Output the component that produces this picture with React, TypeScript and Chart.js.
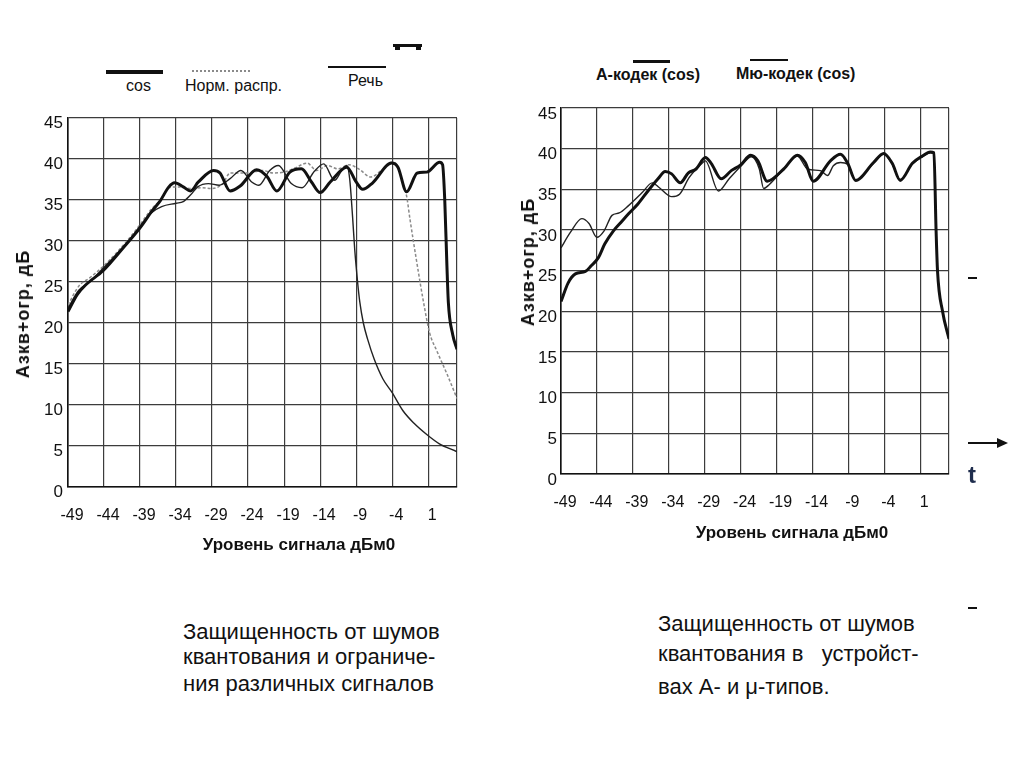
import React, { useEffect, useRef } from "react";
import { Chart, registerables } from "chart.js";

Chart.register(...registerables);

const FONT = '"Liberation Sans", Arial, Helvetica, sans-serif';

// Shared axes
const xTickValues = [-49, -44, -39, -34, -29, -24, -19, -14, -9, -4, 1, 5];
const xMin = -49;
const xMax = 5;
const yMin = 0;
const yMax = 45;
const yStep = 5;

// ----- Left chart: cos / Норм. распр. / Речь -----
const cosLevels = [-49, -47.7, -46.6, -44.1, -41.3, -39, -37.3, -36.2, -35, -34.2, -33, -32, -30.9, -28.8, -27.9, -26.5, -25.1, -22.8, -21.4, -20, -18.2, -16.6, -15.2, -14, -12.6, -10.3, -9, -8.1, -6.7, -4.1, -3.2, -2, -0.5, 0.8, 2.6, 3, 3.3, 3.6, 3.8, 4.4, 5];
const cosValues = [21.4, 23.5, 24.6, 26.4, 29.2, 31.6, 33.7, 34.9, 36.6, 37.1, 36.6, 36.1, 37.2, 38.6, 38.3, 36.1, 36.7, 38.7, 37.9, 36.1, 38.4, 38.8, 37.2, 35.9, 37.2, 39, 37.2, 36.3, 37.1, 39.5, 39, 36, 38.3, 38.4, 39.6, 39.3, 35, 27, 22.5, 18.6, 16.8];

const normLevels = [-49, -47.5, -46, -44, -41, -39, -37.5, -36, -35, -33.5, -32, -30.5, -29, -27.5, -26.5, -24, -22, -20.5, -19, -17.5, -15.8, -14.5, -13, -11.5, -10, -8.5, -7, -5.5, -4, -3.4, -2.5, -2, -1.5, -0.6, 0.3, 1.2, 2.2, 3.6, 5];
const normValues = [22.2, 24.5, 25.5, 27, 29.8, 32, 33.8, 35.2, 36.5, 36.6, 36.4, 36.5, 36.4, 37, 38.3, 38.3, 38.6, 38.3, 38.4, 38.9, 39.5, 38.6, 39.2, 38.8, 39.3, 38.7, 37.8, 38.6, 39.6, 39.4, 37, 35.5, 32.5, 27.5, 22.8, 18.8, 16.6, 13.8, 10.8];

const speechLevels = [-49, -47.5, -46, -44, -41, -39, -37.5, -36, -34, -33, -32, -31, -29.5, -28, -26.5, -25, -23.5, -22.5, -21, -19.8, -18, -16.5, -14.8, -13.5, -12, -11, -10.3, -9.9, -9.5, -9.2, -8.8, -8.5, -8, -7.4, -6.5, -5.3, -4, -2.5, -1, 0.8, 2.5, 5];
const speechValues = [21.8, 24, 25, 26.8, 29.6, 31.8, 33.4, 34.2, 34.6, 34.8, 35.6, 36.6, 37, 36.8, 37.6, 38.6, 37.2, 36.8, 38.6, 39.2, 37, 36.5, 38.5, 39.4, 37.4, 38.6, 39.2, 37.6, 33, 29, 25, 22.6, 20, 18, 15.6, 13.2, 11.5, 9.3, 7.8, 6.4, 5.3, 4.3];

// ----- Right chart: А-кодек (cos) / Мю-кодек (cos) -----
const aLawLevels = [-49, -48, -47, -45.6, -44.8, -43.8, -42.9, -41.7, -40.7, -39.6, -38.3, -36.9, -35.5, -34.5, -33.6, -32.4, -31.3, -30.2, -28.9, -28.1, -26.7, -25.3, -24, -22.6, -21.6, -20.3, -18, -16.1, -15, -13.9, -11.5, -10.1, -9.1, -8, -5.5, -4.1, -2.9, -1.8, -0.1, 1.3, 2.4, 2.9, 3.2, 3.4, 4.1, 5];
const aLawValues = [21.2, 23.5, 24.6, 24.9, 25.6, 26.6, 28.3, 29.9, 30.9, 32, 33.2, 34.8, 36.3, 37.2, 36.9, 35.8, 37, 37.5, 38.9, 38.2, 36.3, 37.3, 38, 39.2, 38.5, 36, 37.5, 39.2, 38.3, 36, 38.5, 39.3, 38.2, 36.1, 38.3, 39.4, 38.2, 36.1, 38.2, 39.1, 39.6, 39.5, 30, 25, 20, 16.6];

const muLawLevels = [-49, -47.7, -46.1, -45.1, -44, -43, -41.9, -40.9, -39.6, -37.7, -36.3, -35.3, -33.6, -32.5, -31.2, -30.1, -29.5, -28.9, -27.1, -25.6, -23.9, -22.5, -21.4, -20.8, -20, -18, -16.1, -14.7, -12.9, -11.9, -11.1, -10.1, -9.1, -8, -5.5, -4.1, -2.9, -1.8, -0.1, 1.3, 2.4, 2.9, 3.2, 3.4, 4.1, 5];
const muLawValues = [27.8, 29.7, 31.4, 30.8, 29.1, 29.9, 31.8, 32.1, 33, 34.6, 35.8, 35.2, 34.1, 34.4, 36.4, 37.6, 38.1, 38.5, 34.8, 36.3, 37.9, 39, 37.5, 35.1, 35.6, 37.5, 39.1, 37.5, 37.3, 36.7, 37.9, 38.3, 38.1, 36.1, 38.2, 39.3, 38.1, 36.2, 38.1, 39, 39.5, 39.4, 30, 25, 20, 16.6];

type Series = {
  levels: number[];
  values: number[];
  color: string;
  width: number;
  dash?: number[];
};

type Frame = {
  left: number;
  top: number;
  width: number;
  height: number;
  yAxisW: number;
  xAxisH: number;
  padTop: number;
  padRight: number;
  yTickPad: number;
  xTickPad: number;
  yLabelOffset: number;
};

function buildConfig(series: Series[], f: Frame): any {
  return {
    type: "line",
    data: {
      datasets: series.map((s) => ({
        data: s.levels.map((x, i) => ({ x, y: s.values[i] })),
        borderColor: s.color,
        borderWidth: s.width,
        borderDash: s.dash || [],
        pointRadius: 0,
        fill: false,
        cubicInterpolationMode: "monotone",
      })),
    },
    options: {
      animation: false,
      responsive: false,
      maintainAspectRatio: false,
      devicePixelRatio: 1,
      layout: { padding: { top: f.padTop, right: f.padRight, left: 0, bottom: 0 } },
      plugins: {
        legend: { display: false },
        tooltip: { enabled: false },
        title: { display: false },
      },
      scales: {
        x: {
          type: "linear",
          min: xMin,
          max: xMax,
          afterBuildTicks: (axis: any) => {
            axis.ticks = xTickValues.map((value) => ({ value }));
          },
          afterFit: (scale: any) => {
            scale.height = f.xAxisH;
          },
          grid: { color: "#3c3c3c", lineWidth: 1.2, drawTicks: false },
          border: { color: "#111", width: 1.6 },
          ticks: {
            autoSkip: false,
            maxRotation: 0,
            padding: f.xTickPad,
            labelOffset: 4,
            color: "#111",
            font: { family: FONT, size: 16 },
            callback: (v: any) => (Number(v) === xMax ? "" : String(v)),
          },
        },
        y: {
          min: yMin,
          max: yMax,
          afterFit: (scale: any) => {
            scale.width = f.yAxisW;
          },
          grid: { color: "#3c3c3c", lineWidth: 1.2, drawTicks: false },
          border: { color: "#111", width: 1.6 },
          ticks: {
            stepSize: yStep,
            padding: f.yTickPad,
            labelOffset: f.yLabelOffset,
            color: "#111",
            font: { family: FONT, size: 17 },
          },
        },
      },
    },
  };
}

function LineChart({ series, frame }: { series: Series[]; frame: Frame }) {
  const ref = useRef<HTMLCanvasElement | null>(null);
  useEffect(() => {
    if (!ref.current) return;
    const chart = new Chart(ref.current, buildConfig(series, frame));
    return () => chart.destroy();
  }, []);
  return (
    <canvas
      ref={ref}
      width={frame.width}
      height={frame.height}
      style={{
        position: "absolute",
        left: frame.left,
        top: frame.top,
        width: frame.width,
        height: frame.height,
      }}
    />
  );
}

function Text({
  x,
  baseline,
  size,
  bold,
  children,
  center,
  color,
}: {
  x: number;
  baseline: number;
  size: number;
  bold?: boolean;
  children: React.ReactNode;
  center?: boolean;
  color?: string;
}) {
  return (
    <div
      style={{
        position: "absolute",
        left: x,
        top: baseline - 0.8465 * size,
        fontFamily: FONT,
        fontSize: size,
        lineHeight: `${size}px`,
        fontWeight: bold ? "bold" : "normal",
        whiteSpace: "pre",
        color: color || "#111",
        transform: center ? "translateX(-50%)" : undefined,
      }}
    >
      {children}
    </div>
  );
}

function VText({ cx, cy, children }: { cx: number; cy: number; children: React.ReactNode }) {
  return (
    <div
      style={{
        position: "absolute",
        left: cx,
        top: cy,
        fontFamily: FONT,
        fontSize: 18,
        lineHeight: "18px",
        fontWeight: "bold",
        letterSpacing: 1,
        whiteSpace: "nowrap",
        color: "#111",
        transform: "translate(-50%, -50%) rotate(-90deg)",
      }}
    >
      {children}
    </div>
  );
}

function Bar({ x, y, w, h, color, dotted }: { x: number; y: number; w: number; h: number; color: string; dotted?: boolean }) {
  return (
    <div
      style={{
        position: "absolute",
        left: x,
        top: y,
        width: w,
        height: dotted ? 0 : h,
        background: dotted ? "transparent" : color,
        borderTop: dotted ? `${h}px dotted ${color}` : undefined,
      }}
    />
  );
}

const leftSeries: Series[] = [
  { levels: cosLevels, values: cosValues, color: "#111", width: 3 },
  { levels: speechLevels, values: speechValues, color: "#222", width: 1.4 },
  { levels: normLevels, values: normValues, color: "#8a8a8a", width: 1.5, dash: [3, 2] },
];

const rightSeries: Series[] = [
  { levels: aLawLevels, values: aLawValues, color: "#111", width: 3 },
  { levels: muLawLevels, values: muLawValues, color: "#222", width: 1.4 },
];

const leftFrame: Frame = {
  left: 0,
  top: 100,
  width: 480,
  height: 460,
  yAxisW: 68,
  xAxisH: 73,
  padTop: 18,
  padRight: 23,
  yTickPad: 5,
  xTickPad: 19,
  yLabelOffset: 5,
};

const rightFrame: Frame = {
  left: 500,
  top: 90,
  width: 470,
  height: 460,
  yAxisW: 61,
  xAxisH: 76,
  padTop: 18,
  padRight: 21,
  yTickPad: 4,
  xTickPad: 19,
  yLabelOffset: 6,
};

export default function App() {
  return (
    <div
      style={{
        position: "absolute",
        left: 0,
        top: 0,
        width: 1024,
        height: 767,
        background: "#fff",
        overflow: "hidden",
      }}
    >
      <LineChart series={leftSeries} frame={leftFrame} />
      <LineChart series={rightSeries} frame={rightFrame} />

      {/* top mark */}
      <Bar x={393} y={44} w={29} h={3} color="#111" />
      <Bar x={395} y={46} w={5} h={4} color="#111" />
      <Bar x={416} y={46} w={5} h={4} color="#111" />

      {/* left legend */}
      <Bar x={106} y={70} w={57} h={4} color="#111" />
      <Text x={126} baseline={92} size={16}>cos</Text>
      <Bar x={192} y={70} w={58} h={2} color="#8a8a8a" dotted />
      <Text x={185} baseline={92} size={16}>Норм. распр.</Text>
      <Bar x={328} y={66} w={58} h={2} color="#111" />
      <Text x={348} baseline={87} size={16}>Речь</Text>

      {/* right legend */}
      <Text x={596} baseline={81} size={16} bold>А-кодек (cos)</Text>
      <Bar x={633} y={60} w={37} h={3} color="#111" />
      <Text x={736} baseline={80} size={16} bold>Мю-кодек (cos)</Text>
      <Bar x={750} y={59} w={38} h={1.5} color="#111" />

      {/* axis titles */}
      <VText cx={23} cy={314}>Азкв+огр, дБ</VText>
      <Text x={299} baseline={550} size={17} bold center>Уровень сигнала дБм0</Text>
      <VText cx={528} cy={262}>Азкв+огр, дБ</VText>
      <Text x={792} baseline={538} size={17} bold center>Уровень сигнала дБм0</Text>

      {/* captions */}
      <Text x={183} baseline={640} size={22}>Защищенность от шумов</Text>
      <Text x={183} baseline={665} size={22}>квантования и ограниче-</Text>
      <Text x={183} baseline={692} size={22}>ния различных сигналов</Text>

      <Text x={658} baseline={632} size={22}>Защищенность от шумов</Text>
      <Text x={658} baseline={662} size={22}>{"квантования в   устройст-"}</Text>
      <Text x={658} baseline={695} size={22}>вах А- и μ-типов.</Text>

      {/* side marks */}
      <Bar x={968} y={277} w={9} h={1.5} color="#111" />
      <Bar x={968} y={442} w={30} h={1.5} color="#111" />
      <div
        style={{
          position: "absolute",
          left: 997,
          top: 438,
          width: 0,
          height: 0,
          borderTop: "5px solid transparent",
          borderBottom: "5px solid transparent",
          borderLeft: "11px solid #111",
        }}
      />
      <Text x={968} baseline={483} size={24} color="#1f2d4d" bold>t</Text>
      <Bar x={968} y={607} w={9} h={1.5} color="#111" />
    </div>
  );
}
